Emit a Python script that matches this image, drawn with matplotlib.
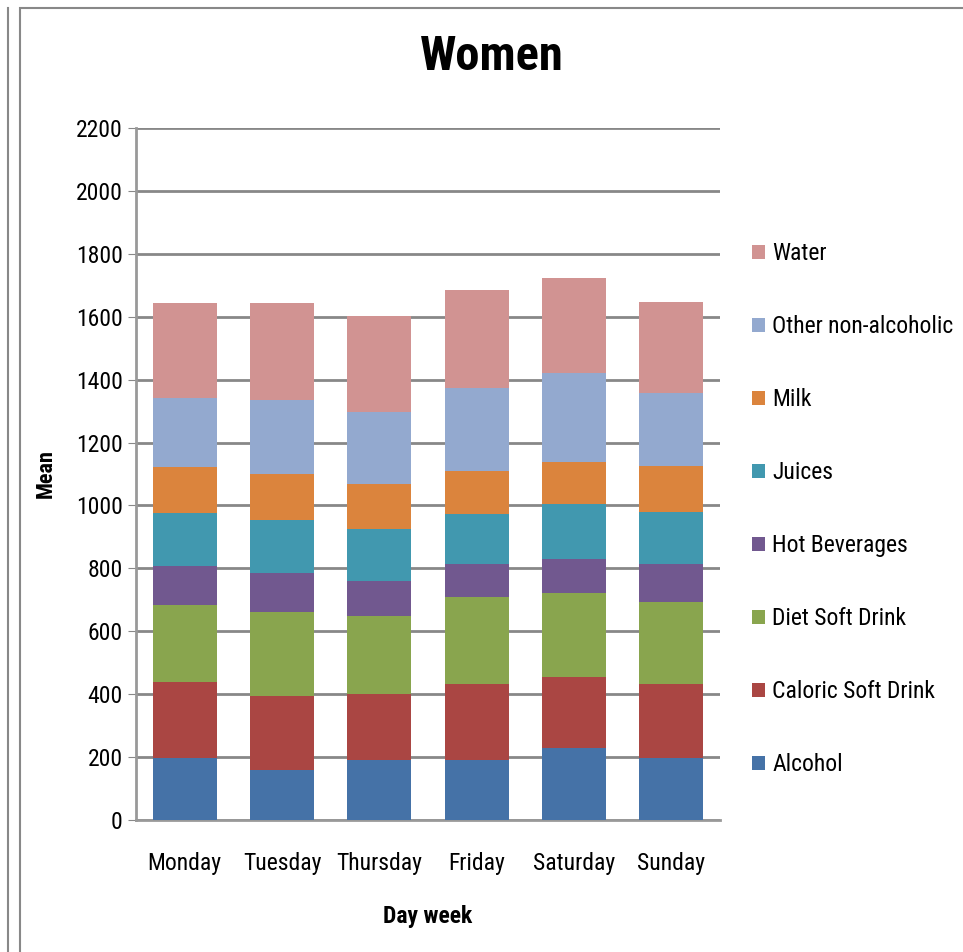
import matplotlib.pyplot as plt
from matplotlib.patches import Rectangle
from matplotlib.lines import Line2D
import numpy as np

days = ["Monday", "Tuesday", "Thursday", "Friday", "Saturday", "Sunday"]
drinks = ["Alcohol", "Caloric Soft Drink", "Diet Soft Drink", "Hot Beverages",
          "Juices", "Milk", "Other non-alcoholic", "Water"]

alcohol = [196, 159, 191, 191, 229, 196]
caloric = [243, 236, 210, 242, 226, 237]
diet = [244, 265, 246, 275, 266, 259]
hot_bev = [124, 126, 112, 106, 109, 122]
juices = [169, 169, 167, 158, 174, 164]
milk = [146, 146, 143, 137, 133, 146]
other = [219, 234, 228, 266, 283, 234]
water = [303, 309, 305, 309, 302, 288]

series = [alcohol, caloric, diet, hot_bev, juices, milk, other, water]
colors = ["#4572A7", "#AA4643", "#89A54E", "#71588F",
          "#4198AF", "#DB843D", "#93A9CF", "#D19392"]

plt.rcParams['font.family'] = ['Arial Narrow', 'Liberation Sans Narrow', 'Roboto Condensed',
                               'Archivo Narrow', 'PT Sans Narrow', 'Sofia Sans Condensed',
                               'Liberation Sans', 'DejaVu Sans']

fig = plt.figure(figsize=(9.63, 9.52), dpi=100)
ax = fig.add_axes([136 / 963, 1 - 820 / 952, 584 / 963, 692 / 952])

x = np.arange(len(days))
bottom = np.zeros(len(days))
bars = []
for vals, name, c in zip(series, drinks, colors):
    b = ax.bar(x, vals, 0.66, bottom=bottom, color=c, label=name, zorder=3)
    bars.append(b)
    bottom += np.array(vals)

ax.set_xlim(-0.5, len(days) - 0.5)
ax.set_ylim(0, 2200)
ax.set_yticks(np.arange(0, 2201, 200))
ax.set_xticks(x)
ax.set_xticklabels(days, fontsize=17)
ax.tick_params(axis='y', labelsize=17, length=6, color='#888888', direction='out')
ax.tick_params(axis='x', length=0, pad=23)
ax.grid(axis='y', color='#888888', linewidth=2, zorder=0)
for s in ['top', 'right']:
    ax.spines[s].set_visible(False)
for s in ['left', 'bottom']:
    ax.spines[s].set_color('#999999')
    ax.spines[s].set_linewidth(2)

ax.set_ylabel("Mean", fontsize=16, fontweight='bold', labelpad=14)
ax.set_xlabel("Day week", fontsize=17, fontweight='bold', labelpad=22)
fig.text(492 / 963, 1 - 57 / 952, "Women", fontsize=35, fontweight='bold',
         ha='center', va='center')

handles = [b.patches[0] for b in bars][::-1]
labels = drinks[::-1]
ax.legend(handles, labels, loc='upper left', bbox_to_anchor=(752 / 963, 1 - 242 / 952),
          bbox_transform=fig.transFigure, frameon=False, fontsize=17, borderpad=0,
          borderaxespad=0, handlelength=0.55, handleheight=0.55, handletextpad=0.3,
          labelspacing=2.12)

fig.patches.append(Rectangle((20 / 963, -0.01), 1.0, 1 - 8 / 952 + 0.01,
                             transform=fig.transFigure, fill=False,
                             edgecolor='#888888', linewidth=1.5))
fig.lines.append(Line2D([8 / 963, 8 / 963], [0, 1 - 8 / 952], transform=fig.transFigure,
                        color='#888888', linewidth=1.5))

fig.savefig("out.png", dpi=100)
